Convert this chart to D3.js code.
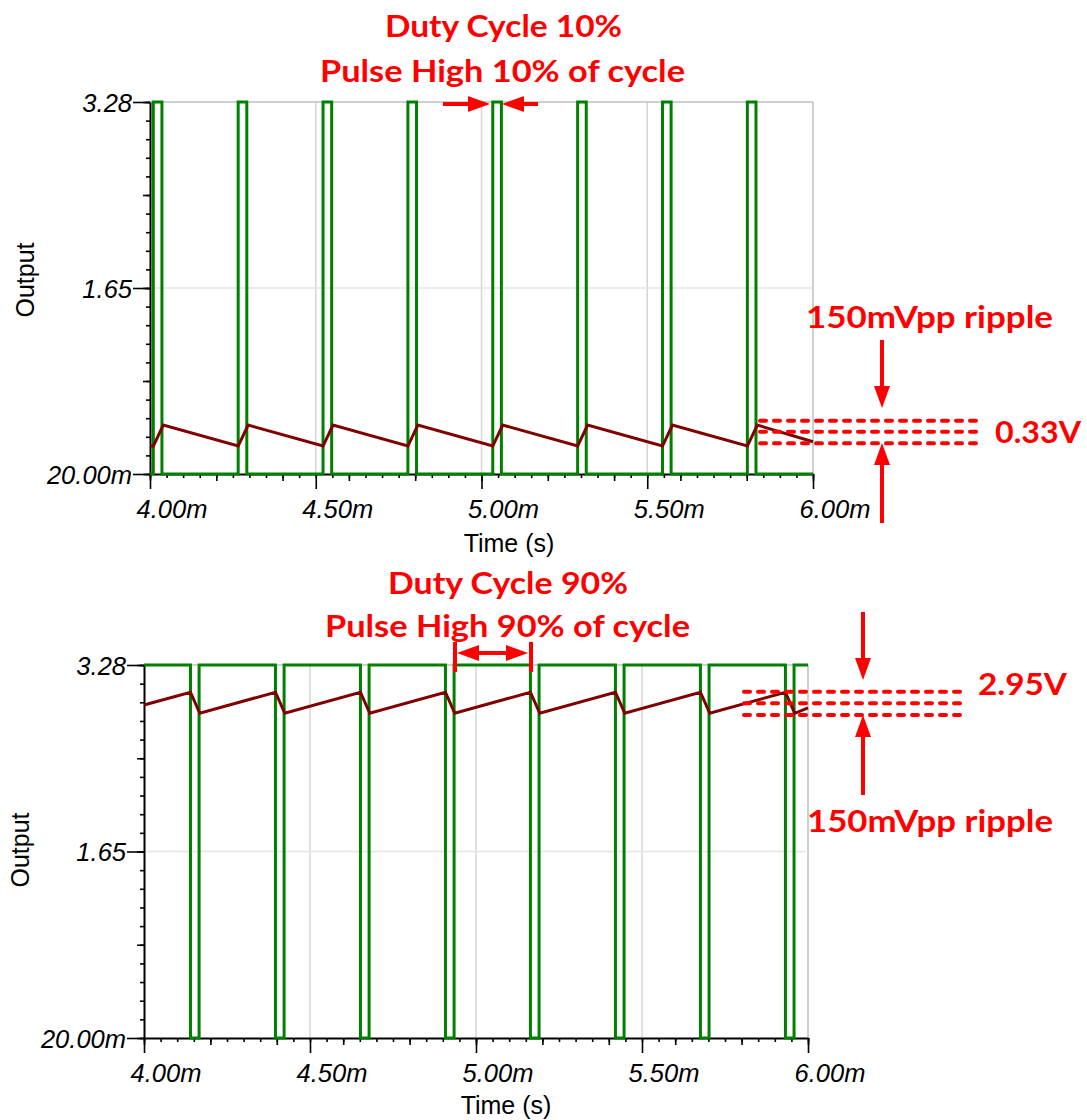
<!DOCTYPE html>
<html>
<head>
<meta charset="utf-8">
<script src="https://cdn.jsdelivr.net/npm/d3@7"></script>
<style>
  body { margin: 0; background: #fff; }
  svg { display: block; }
  .tick text { font-family: "Liberation Sans", Arial, sans-serif; font-style: italic; font-size: 25.5px; fill: #000; }
  .axis-title { font-family: "Liberation Sans", Arial, sans-serif; font-size: 25px; fill: #000; }
  .note { font-family: Lato, "Open Sans", sans-serif; font-weight: bold; font-size: 31px; fill: #ff0000; }
</style>
</head>
<body>
<svg id="chart" width="1087" height="1120"></svg>
<script>

// axis ticks
const timeTicks = [4.0, 4.5, 5.0, 5.5, 6.0];
const timeLabels = ['4.00m', '4.50m', '5.00m', '5.50m', '6.00m'];
const voltTicks = [0.02, 1.65, 3.28];
const voltLabels = ['20.00m', '1.65', '3.28'];

// PWM edges (ms), 10% duty: high between rise and fall
const pwm10Rise = [4.010, 4.266, 4.522, 4.778, 5.034, 5.290, 5.546, 5.802];
const pwm10Fall = [4.036, 4.292, 4.548, 4.804, 5.060, 5.316, 5.572, 5.828];
// 90% duty: low between fall and rise
const pwm90Fall = [4.140, 4.396, 4.652, 4.908, 5.164, 5.420, 5.676, 5.932];
const pwm90Rise = [4.166, 4.422, 4.678, 4.934, 5.190, 5.446, 5.702, 5.958];

// filtered output (ms, V)
const out10T = [4.000, 4.010, 4.040, 4.266, 4.296, 4.522, 4.552, 4.778, 4.808, 5.034, 5.064, 5.290, 5.320, 5.546, 5.576, 5.802, 5.832, 6.000];
const out10V = [0.268, 0.265, 0.449, 0.265, 0.449, 0.265, 0.449, 0.265, 0.449, 0.265, 0.449, 0.265, 0.449, 0.265, 0.449, 0.265, 0.449, 0.303];
const out90T = [4.000, 4.140, 4.168, 4.396, 4.424, 4.652, 4.680, 4.908, 4.936, 5.164, 5.192, 5.420, 5.448, 5.676, 5.704, 5.932, 5.960, 6.000];
const out90V = [2.930, 3.042, 2.858, 3.042, 2.858, 3.042, 2.858, 3.042, 2.858, 3.042, 2.858, 3.042, 2.858, 3.042, 2.858, 3.042, 2.858, 2.905];

const lo = 0.02, hi = 3.28;

const svg = d3.select('#chart');

function panel(opts) {
    let x = d3.scaleLinear().domain([4, 6]).range([opts.left, opts.right]);
    let y = d3.scaleLinear().domain([lo, hi]).range([opts.bottom, opts.top]);
    let g = svg.append('g');

    // grid
    g.selectAll('.vgrid').data(timeTicks.slice(1)).enter().append('line')
        .attr('x1', x).attr('x2', x)
        .attr('y1', y(lo)).attr('y2', y(hi))
        .attr('stroke', (d) => d === 6 ? '#bfbfbf' : '#d6d6d6')
        .attr('stroke-width', 1.5);
    g.selectAll('.hgrid').data(voltTicks.slice(1)).enter().append('line')
        .attr('x1', x(4)).attr('x2', x(6))
        .attr('y1', y).attr('y2', y)
        .attr('stroke', (d) => d === hi ? '#bfbfbf' : '#e4e4e4')
        .attr('stroke-width', 1.5);

    // x axis: minor, medium, major
    const xAxis = (values, size, labels) => {
        let a = g.append('g').attr('transform', `translate(0,${y(lo)})`)
            .call(d3.axisBottom(x).tickValues(values).tickSize(size).tickSizeOuter(0)
                .tickFormat(labels ? (d, i) => labels[i] : ''));
        a.selectAll('line').attr('stroke', '#000').attr('stroke-width', 1.6);
        return a;
    };
    xAxis(x.ticks(40), 4).select('.domain').remove();
    xAxis(x.ticks(8), 7).select('.domain').remove();
    let xa = xAxis(timeTicks, 15, timeLabels);
    xa.select('.domain').attr('stroke', '#000').attr('stroke-width', 2);
    xa.selectAll('text').attr('text-anchor', 'start').attr('x', -14).attr('y', 44).attr('dy', 0);

    // y axis: minor, medium, major
    const yAxis = (values, size, labels) => {
        let a = g.append('g').attr('transform', `translate(${x(4)},0)`)
            .call(d3.axisLeft(y).tickValues(values).tickSize(size).tickSizeOuter(0)
                .tickFormat(labels ? (d, i) => labels[i] : ''));
        a.selectAll('line').attr('stroke', '#000').attr('stroke-width', 1.6);
        return a;
    };
    const step = (hi - lo) / 20;
    yAxis(d3.range(21).map((i) => lo + i * step), 4).select('.domain').remove();
    yAxis(d3.range(5).map((i) => lo + i * step * 5), 7).select('.domain').remove();
    let ya = yAxis(voltTicks, 17, voltLabels);
    ya.select('.domain').attr('stroke', '#000').attr('stroke-width', 2);
    ya.selectAll('text').attr('x', -18).attr('dy', '0.36em');

    // titles
    g.append('text').attr('class', 'axis-title')
        .attr('x', opts.timeX).attr('y', opts.timeY).attr('text-anchor', 'middle').text('Time (s)');
    g.append('text').attr('class', 'axis-title')
        .attr('transform', `translate(${opts.outX},${opts.outY}) rotate(-90)`)
        .attr('text-anchor', 'middle').attr('dy', '0.35em').text('Output');

    let line = d3.line().x((d) => x(d[0])).y((d) => y(d[1]));

    g.append('path').datum(opts.pwm)
        .attr('d', line).attr('fill', 'none')
        .attr('stroke', '#008000').attr('stroke-width', 3).attr('stroke-linejoin', 'miter');

    g.append('path').datum(opts.out)
        .attr('d', line).attr('fill', 'none')
        .attr('stroke', '#800000').attr('stroke-width', 3);
}

// step waveforms built from the edge lists
let pwm10 = [[4, lo]];
pwm10Rise.forEach((r, i) => pwm10.push([r, lo], [r, hi], [pwm10Fall[i], hi], [pwm10Fall[i], lo]));
pwm10.push([6, lo]);

let pwm90 = [[4, hi]];
pwm90Fall.forEach((f, i) => pwm90.push([f, hi], [f, lo], [pwm90Rise[i], lo], [pwm90Rise[i], hi]));
pwm90.push([6, hi]);

panel({
    left: 150, right: 813, top: 102, bottom: 474,
    timeX: 509, timeY: 552, outX: 25, outY: 280,
    pwm: pwm10, out: out10T.map((t, i) => [t, out10V[i]])
});
panel({
    left: 144, right: 808, top: 665, bottom: 1038,
    timeX: 506, timeY: 1114, outX: 20, outY: 850,
    pwm: pwm90, out: out90T.map((t, i) => [t, out90V[i]])
});

// annotations
const red = '#ff0000';

function note(txt, x, y, w, anchor) {
    svg.append('text').attr('class', 'note')
        .attr('x', x).attr('y', y)
        .attr('text-anchor', anchor || 'start')
        .attr('textLength', w).attr('lengthAdjust', 'spacingAndGlyphs')
        .text(txt);
}

function arrow(x1, y1, x2, y2) {
    let len = Math.hypot(x2 - x1, y2 - y1);
    let ux = (x2 - x1) / len, uy = (y2 - y1) / len;
    let hl = 22, hw = 8;
    let bx = x2 - ux * hl, by = y2 - uy * hl;
    svg.append('line')
        .attr('x1', x1).attr('y1', y1).attr('x2', bx + ux * 2).attr('y2', by + uy * 2)
        .attr('stroke', red).attr('stroke-width', 4);
    svg.append('path')
        .attr('d', `M${x2},${y2}L${bx - uy * hw},${by + ux * hw}L${bx + uy * hw},${by - ux * hw}Z`)
        .attr('fill', red);
}

function dashes(ys, xa, xb) {
    ys.forEach((yy) => svg.append('line')
        .attr('x1', xa + 2).attr('x2', xb - 2).attr('y1', yy).attr('y2', yy)
        .attr('stroke', red).attr('stroke-width', 4)
        .attr('stroke-linecap', 'round')
        .attr('stroke-dasharray', '6,8'));
}

// top panel
note('Duty Cycle 10%', 503.5, 37, 237, 'middle');
note('Pulse High 10% of cycle', 502.5, 81.5, 365, 'middle');
note('150mVpp ripple', 806, 328, 247);
note('0.33V', 995, 443, 86);
arrow(443, 104, 490, 104);
arrow(538, 104, 502, 104);
dashes([420.7, 431.7, 443.3], 758, 978);
arrow(882, 340, 882, 408);
arrow(882, 523, 882, 443);

// bottom panel
note('Duty Cycle 90%', 508, 594, 240, 'middle');
note('Pulse High 90% of cycle', 507.5, 637, 365, 'middle');
note('2.95V', 978, 695, 89);
note('150mVpp ripple', 807, 832, 246);
dashes([691.7, 703.3, 715], 742, 963);
arrow(863, 612, 863, 680);
arrow(863, 795, 863, 715);
arrow(492, 653, 457, 653);
arrow(492, 653, 528, 653);
[455, 531].forEach((bx) => svg.append('line')
    .attr('x1', bx).attr('x2', bx).attr('y1', 642).attr('y2', 672)
    .attr('stroke', red).attr('stroke-width', 4));

</script>
</body>
</html>
